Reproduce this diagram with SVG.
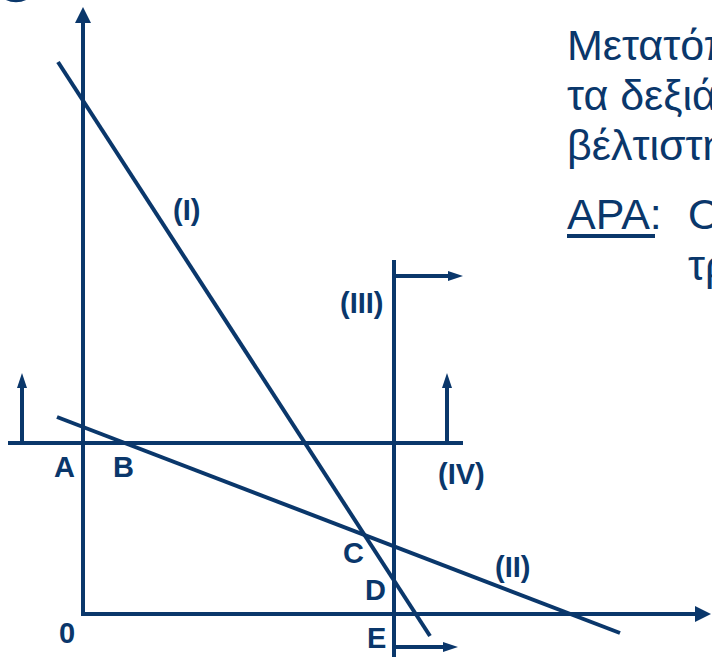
<svg xmlns="http://www.w3.org/2000/svg" width="712" height="657" viewBox="0 0 712 657">
<style>
.ln{stroke:#0a376b;stroke-width:4;fill:none}
.lb{font-family:"Liberation Sans",Arial,sans-serif;font-weight:bold;font-size:29px;fill:#0a376b}
.tx{font-family:"Liberation Sans",Arial,sans-serif;font-size:43px;fill:#0a376b}
</style>
<defs>
<marker id="big" markerUnits="userSpaceOnUse" markerWidth="16" markerHeight="16" refX="4" refY="8" orient="auto">
<path d="M0,0 L16,8 L0,16 z" fill="#0a376b"/>
</marker>
<marker id="sm" markerUnits="userSpaceOnUse" markerWidth="15" markerHeight="10" refX="3" refY="5" orient="auto">
<path d="M0,0 L15,5 L0,10 z" fill="#0a376b"/>
</marker>
</defs>
<rect width="712" height="657" fill="#ffffff"/>
<ellipse cx="16" cy="-26" rx="24" ry="27" fill="none" stroke="#0a376b" stroke-width="2.5"/>
<g id="connectors">
<path id="y-axis" class="ln" d="M83,614 L83,19" marker-end="url(#big)"/>
<path id="x-axis" class="ln" d="M81,614 L699,614" marker-end="url(#big)"/>
<path id="line-I" class="ln" d="M58,62 L430,636"/>
<path id="line-II" class="ln" d="M57,417 L620,633"/>
<path id="line-IV" class="ln" d="M8,443 L463,443"/>
<path id="arrow-IV-left" class="ln" d="M22,443 L22,385" marker-end="url(#sm)"/>
<path id="arrow-IV-right" class="ln" d="M447,443 L447,385" marker-end="url(#sm)"/>
<path id="line-III" class="ln" d="M394,260 L394,657"/>
<path id="arrow-III-top" class="ln" d="M394,276 L451,276" marker-end="url(#sm)"/>
<path id="arrow-III-bottom" class="ln" d="M394,647 L446,647" marker-end="url(#sm)"/>
</g>
<g id="labels">
<text class="lb" x="173" y="220">(I)</text>
<text class="lb" x="495" y="577">(II)</text>
<text class="lb" x="340" y="313">(III)</text>
<text class="lb" x="438" y="484">(IV)</text>
<text class="lb" x="54" y="477">A</text>
<text class="lb" x="113" y="477">B</text>
<text class="lb" x="343" y="563">C</text>
<text class="lb" x="365" y="600">D</text>
<text class="lb" x="367" y="648">E</text>
<text class="lb" x="59" y="643">0</text>
</g>
<g id="text">
<text class="tx" x="567" y="60">Μετατόπ</text>
<text class="tx" x="567" y="110">τα δεξιά</text>
<text class="tx" x="567" y="160">βέλτιστη</text>
<text class="tx" x="567" y="229">ΑΡΑ:</text>
<rect x="567" y="234" width="88" height="4" fill="#0a376b"/>
<text class="tx" x="688" y="229">Ο</text>
<text class="tx" x="688" y="280">τρ</text>
</g>
</svg>
